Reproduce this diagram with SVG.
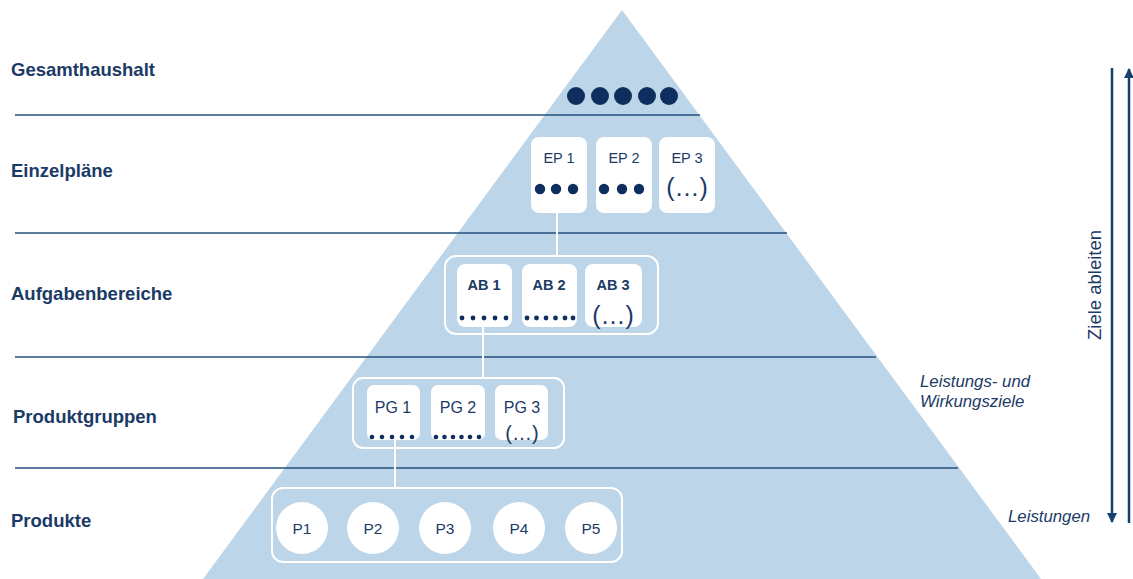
<svg xmlns="http://www.w3.org/2000/svg" width="1133" height="579" viewBox="0 0 1133 579">
<defs>
<style>
.lbl{font-family:"Liberation Sans",Arial,sans-serif;font-weight:bold;font-size:18.5px;fill:#1b3a66}
.it{font-family:"Liberation Sans",Arial,sans-serif;font-style:italic;font-size:16.8px;fill:#1b3a66}
.box{fill:#fff}
.cont{fill:none;stroke:#fff;stroke-width:2}
.t{font-family:"Liberation Sans",Arial,sans-serif;font-size:14.5px;fill:#1b3a66;text-anchor:middle}
.tb{font-family:"Liberation Sans",Arial,sans-serif;font-size:14.5px;font-weight:bold;fill:#1b3a66;text-anchor:middle}
.par{font-family:"Liberation Sans",Arial,sans-serif;font-size:25px;fill:#1b3a66;text-anchor:middle}
.dot{fill:#0e2f5e}
.sep{stroke:#24507f;stroke-width:1.5}
.conn{stroke:#fff;stroke-width:2;fill:none}
.arr{stroke:#17406e;stroke-width:2.5;fill:none}
</style>
<marker id="ah" viewBox="0 0 10 10" refX="9" refY="5" markerWidth="4" markerHeight="4" orient="auto" markerUnits="strokeWidth">
<path d="M0,0 L10,5 L0,10 z" fill="#17406e"/>
</marker>
</defs>
<rect width="1133" height="579" fill="#fff"/>
<polygon id="pyramid" points="622,10 1041,579 203,579" fill="#bdd5e8"/>
<g id="separators">
<line class="sep" x1="15" y1="115" x2="700" y2="115"/>
<line class="sep" x1="15" y1="233" x2="787" y2="233"/>
<line class="sep" x1="15" y1="357" x2="876" y2="357"/>
<line class="sep" x1="15" y1="468" x2="958" y2="468"/>
</g>
<g id="levels">
<text class="lbl" x="11" y="76">Gesamthaushalt</text>
<text class="lbl" x="11" y="177">Einzelpläne</text>
<text class="lbl" x="11" y="300">Aufgabenbereiche</text>
<text class="lbl" x="13" y="423">Produktgruppen</text>
<text class="lbl" x="11" y="527">Produkte</text>
</g>
<g id="connectors">
<line class="conn" x1="557" y1="212" x2="557" y2="257"/>
<line class="conn" x1="483" y1="327" x2="483" y2="379"/>
<line class="conn" x1="395" y1="440" x2="395" y2="489"/>
</g>
<g id="gesamthaushalt">
<circle class="dot" cx="576" cy="96" r="9"/>
<circle class="dot" cx="600" cy="96" r="9"/>
<circle class="dot" cx="623" cy="96" r="9"/>
<circle class="dot" cx="647" cy="96" r="9"/>
<circle class="dot" cx="669" cy="96" r="9"/>
</g>
<g id="ep1">
<rect class="box" x="531" y="137" width="56" height="76" rx="8"/>
<text class="t" x="559" y="163">EP 1</text>
<circle class="dot" cx="540" cy="189" r="5.2"/><circle class="dot" cx="556" cy="189" r="5.2"/><circle class="dot" cx="573" cy="189" r="5.2"/>
</g>
<g id="ep2">
<rect class="box" x="596" y="137" width="56" height="76" rx="8"/>
<text class="t" x="624" y="163">EP 2</text>
<circle class="dot" cx="604" cy="189" r="5.2"/><circle class="dot" cx="622" cy="189" r="5.2"/><circle class="dot" cx="639" cy="189" r="5.2"/>
</g>
<g id="ep3">
<rect class="box" x="659" y="137" width="56" height="76" rx="8"/>
<text class="t" x="687" y="163">EP 3</text>
<text class="par" x="687" y="196">(…)</text>
</g>
<g id="ab">
<rect class="cont" x="445" y="256" width="213" height="78" rx="11"/>
</g>
<g id="ab1">
<rect class="box" x="457" y="264" width="55" height="63" rx="8"/>
<text class="tb" x="484" y="290">AB 1</text>
<g class="dot"><circle cx="462" cy="318" r="2.4"/><circle cx="473" cy="318" r="2.4"/><circle cx="484" cy="318" r="2.4"/><circle cx="495" cy="318" r="2.4"/><circle cx="506" cy="318" r="2.4"/></g>
</g>
<g id="ab2">
<rect class="box" x="522" y="264" width="55" height="63" rx="8"/>
<text class="tb" x="549" y="290">AB 2</text>
<g class="dot"><circle cx="527" cy="318" r="2.4"/><circle cx="536.5" cy="318" r="2.4"/><circle cx="546" cy="318" r="2.4"/><circle cx="555.5" cy="318" r="2.4"/><circle cx="565" cy="318" r="2.4"/><circle cx="573" cy="318" r="2.4"/></g>
</g>
<g id="ab3">
<rect class="box" x="585" y="264" width="57" height="63" rx="8"/>
<text class="tb" x="613" y="290">AB 3</text>
<text class="par" x="613" y="324">(…)</text>
</g>
<g id="pg">
<rect class="cont" x="353" y="378" width="211" height="70" rx="10"/>
</g>
<g id="pg1">
<rect class="box" x="367" y="385" width="53" height="55" rx="7"/>
<text class="t" x="393" y="413" style="font-size:16px">PG 1</text>
<g class="dot"><circle cx="372" cy="437" r="2.3"/><circle cx="382" cy="437" r="2.3"/><circle cx="392" cy="437" r="2.3"/><circle cx="402" cy="437" r="2.3"/><circle cx="412" cy="437" r="2.3"/></g>
</g>
<g id="pg2">
<rect class="box" x="431" y="385" width="54" height="55" rx="7"/>
<text class="t" x="458" y="413" style="font-size:16px">PG 2</text>
<g class="dot"><circle cx="436" cy="437" r="2.3"/><circle cx="444.5" cy="437" r="2.3"/><circle cx="453" cy="437" r="2.3"/><circle cx="461.5" cy="437" r="2.3"/><circle cx="470" cy="437" r="2.3"/><circle cx="479" cy="437" r="2.3"/></g>
</g>
<g id="pg3">
<rect class="box" x="495" y="385" width="53" height="55" rx="7"/>
<text class="t" x="522" y="413" style="font-size:16px">PG 3</text>
<text class="t" x="522" y="440" style="font-size:20px">(…)</text>
</g>
<g id="produkte">
<rect class="cont" x="272" y="488" width="350" height="74" rx="11"/>
</g>
<g id="p1"><circle class="box" cx="302" cy="528" r="26"/><text class="t" x="302" y="534" style="font-size:15.5px">P1</text></g>
<g id="p2"><circle class="box" cx="373" cy="528" r="26"/><text class="t" x="373" y="534" style="font-size:15.5px">P2</text></g>
<g id="p3"><circle class="box" cx="445" cy="528" r="26"/><text class="t" x="445" y="534" style="font-size:15.5px">P3</text></g>
<g id="p4"><circle class="box" cx="519" cy="528" r="26"/><text class="t" x="519" y="534" style="font-size:15.5px">P4</text></g>
<g id="p5"><circle class="box" cx="591" cy="528" r="26"/><text class="t" x="591" y="534" style="font-size:15.5px">P5</text></g>
<g id="annotations">
<text class="it" x="920" y="387">Leistungs- und</text>
<text class="it" x="920" y="407">Wirkungsziele</text>
<text class="it" x="1008" y="522">Leistungen</text>
</g>
<g id="arrows">
<line class="arr" x1="1112" y1="68" x2="1112" y2="522" marker-end="url(#ah)"/>
<line class="arr" x1="1129" y1="523" x2="1129" y2="69" marker-end="url(#ah)"/>
<text x="1101" y="285" transform="rotate(-90 1101 285)" text-anchor="middle" style="font-family:'Liberation Sans',Arial,sans-serif;font-size:18.5px;fill:#1b3a66">Ziele ableiten</text>
</g>
</svg>
